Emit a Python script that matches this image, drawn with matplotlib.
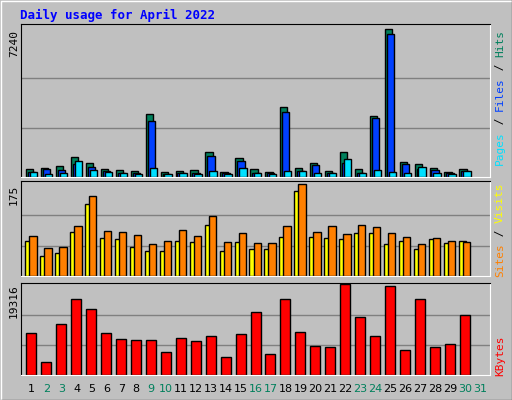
"""
Webalizer 风格的每日访问量图 - April 2022
"""
import numpy as np
import matplotlib
matplotlib.use("Agg")
import matplotlib.pyplot as plt
from matplotlib.lines import Line2D

# ===================== 数据 =====================
days = list(range(1, 32))
hits = [360, 410, 524, 966, 655, 360, 311, 262, 3063, 213, 262, 311, 1196, 213, 901, 360,
        213, 3407, 410, 655, 262, 1196, 360, 2965, 7240, 704, 606, 410, 213, 360, 0]
files = [213, 360, 311, 606, 459, 262, 164, 164, 2719, 115, 164, 164, 999, 164, 753, 164,
         164, 3161, 262, 557, 164, 655, 164, 2867, 6994, 606, 360, 311, 164, 262, 0]
pages = [213, 115, 164, 753, 311, 213, 164, 115, 410, 115, 164, 115, 262, 115, 410, 164,
         115, 262, 262, 164, 164, 852, 164, 311, 213, 164, 459, 164, 115, 262, 0]
visits = [76, 53, 55, 95, 152, 87, 84, 78, 61, 67, 89, 76, 114, 65, 82, 63,
          63, 95, 175, 84, 95, 80, 97, 93, 82, 74, 61, 72, 68, 65, 0]
sites = [68, 38, 44, 84, 137, 72, 70, 55, 49, 49, 67, 65, 97, 49, 65, 51,
         51, 74, 162, 74, 72, 70, 82, 82, 61, 67, 51, 70, 63, 67, 0]
kbytes = [8915, 2759, 10825, 16132, 14009, 8915, 7641, 7429, 7429, 4882, 7854, 7217, 8278,
          3821, 8703, 13372, 4458, 16132, 9127, 6156, 5943, 19316, 12311, 8278, 18891, 5307,
          16132, 5943, 6580, 12736, 0]
weekends = [2, 3, 9, 10, 16, 17, 23, 24, 30, 31]

MAX_HITS, MAX_VISITS, MAX_KB = 7240, 175, 19316

BG = "#C0C0C0"
GRID = "#808080"
C_HITS, C_FILES, C_PAGES = "#00805C", "#0040FF", "#00E0FF"
C_SITES, C_VISITS, C_KB = "#FFFF00", "#FF8000", "#FF0000"
WEEKEND = "#00805C"

W, H = 512, 400
x = np.array(days, dtype=float)
XLIM = (0.284, 31.67)


def px_axes(fig, x0, y0, x1, y1):
    """像素坐标（左上原点）转 axes"""
    return fig.add_axes([x0 / W, 1 - y1 / H, (x1 - x0) / W, (y1 - y0) / H])


def style(ax, vmax, ytop):
    ax.set_facecolor(BG)
    ax.set_xlim(*XLIM)
    ax.set_ylim(0, ytop)
    for g in (vmax / 3, 2 * vmax / 3):
        ax.axhline(g, color=GRID, linewidth=1, zorder=0)
    ax.set_xticks([])
    ax.set_yticks([])
    ax.spines["top"].set_color("black")
    ax.spines["left"].set_color("black")
    ax.spines["bottom"].set_color("white")
    ax.spines["right"].set_color("white")


def bars(ax, offset, values, color, width=0.49):
    """只画非零的柱子（没有数据的日子不画）"""
    v = np.array(values, dtype=float)
    m = v > 0
    ax.bar(x[m] + offset, v[m], width=width, color=color, edgecolor="black",
           linewidth=1, zorder=2)


def vlabel(fig, xp, ybottom, parts, step=6.75):
    """右侧竖排多色标签，从下往上"""
    y = ybottom
    for text, color in parts:
        fig.text(xp / W, 1 - y / H, text, color=color, rotation=90, ha="center", va="bottom",
                 family="DejaVu Sans Mono", fontsize=8)
        y -= step * len(text)


fig = plt.figure(figsize=(W / 100, H / 100), dpi=100, facecolor=BG)

# 外框
fig.add_artist(Line2D([0.5 / W, 0.5 / W, 1 - 0.5 / W], [0, 1 - 0.5 / H, 1 - 0.5 / H],
                      color="white", linewidth=1, transform=fig.transFigure))
fig.add_artist(Line2D([0.5 / W, 1 - 0.5 / W, 1 - 0.5 / W], [0.5 / H, 0.5 / H, 1],
                      color="#606060", linewidth=1, transform=fig.transFigure))

fig.text(20 / W, 1 - 15 / H, "Daily usage for April 2022", color="#0000FF", fontsize=9,
         fontweight="bold", family="DejaVu Sans Mono", va="center", ha="left")

# ===================== Hits / Files / Pages =====================
ax1 = px_axes(fig, 21, 24, 490, 176.7)
style(ax1, MAX_HITS, MAX_HITS * 152.7 / 147.4)
bars(ax1, -0.13, hits, C_HITS)
bars(ax1, 0.0, files, C_FILES)
bars(ax1, 0.13, pages, C_PAGES)

# ===================== Sites / Visits =====================
ax2 = px_axes(fig, 21, 181, 490, 276.3)
style(ax2, MAX_VISITS, MAX_VISITS * 95.3 / 92)
bars(ax2, -0.18, sites, C_SITES)
bars(ax2, 0.09, visits, C_VISITS)

# ===================== KBytes =====================
ax3 = px_axes(fig, 21, 283, 490, 375.3)
style(ax3, MAX_KB, MAX_KB * 92.3 / 91)
bars(ax3, -0.02, kbytes, C_KB, width=0.67)

# 左侧最大值
for label, ytop in (("7240", 30), ("175", 185), ("19316", 284)):
    fig.text(14 / W, 1 - ytop / H, label, rotation=90, ha="center", va="top",
             family="DejaVu Sans Mono", fontsize=8, color="black")

# 右侧图例
vlabel(fig, 500, 165, [("Pages", C_PAGES), (" / ", "black"), ("Files", C_FILES),
                       (" / ", "black"), ("Hits", C_HITS)])
vlabel(fig, 500, 277, [("Sites", C_VISITS), (" / ", "black"), ("Visits", C_SITES)])
vlabel(fig, 500, 376, [("KBytes", C_KB)])

# 日期标签
for d in days:
    xp = 31.7 + (d - 1) * 14.94
    fig.text(xp / W, 1 - 389 / H, str(d), ha="center", va="center", fontsize=8,
             color=WEEKEND if d in weekends else "black")

fig.savefig("out.png", dpi=100, facecolor=BG)
